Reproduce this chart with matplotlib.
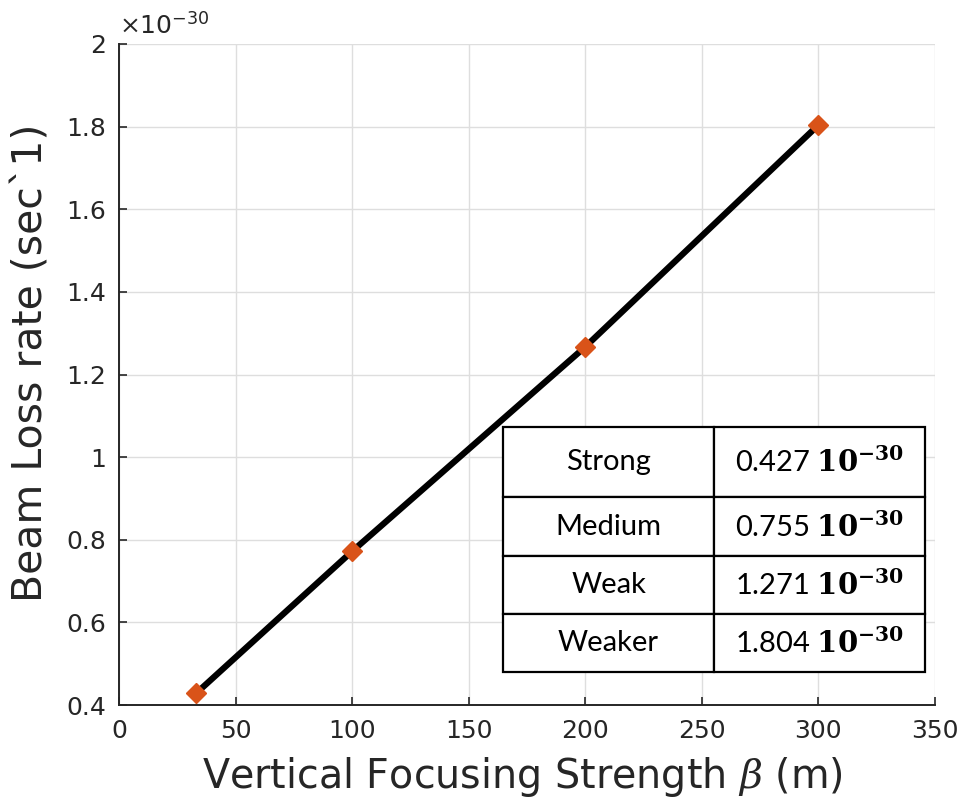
import matplotlib
matplotlib.use('Agg')
import matplotlib.pyplot as plt
import numpy as np

# данные (значения y в единицах 1e-30)
beta = [33, 100, 200, 300]
loss_rate = [0.428, 0.772, 1.267, 1.804]

regimes = ['Strong', 'Medium', 'Weak', 'Weaker']
table_vals = ['0.427', '0.755', '1.271', '1.804']

x_ticks = [0, 50, 100, 150, 200, 250, 300, 350]
y_ticks = [0.4, 0.6, 0.8, 1.0, 1.2, 1.4, 1.6, 1.8, 2.0]

plt.rcParams['font.family'] = 'DejaVu Sans'
plt.rcParams['mathtext.fontset'] = 'dejavuserif'

txt_col = '#262626'

fig = plt.figure(figsize=(9.58, 7.98), dpi=100)
ax = fig.add_axes([0.1242, 0.1165, 0.8518, 0.8284])

ax.plot(beta, loss_rate, color='black', linewidth=4.5, zorder=3)
ax.plot(beta, loss_rate, linestyle='none', marker='D', markersize=10,
        color='#D95319', markeredgecolor='#D95319', zorder=4)

ax.set_xlim(0, 350)
ax.set_ylim(0.4, 2.0)
ax.set_xticks(x_ticks)
ax.set_yticks(y_ticks)
ax.set_yticklabels(['%g' % v for v in y_ticks])
ax.grid(True, color='#dedede', linewidth=1.0)
ax.set_axisbelow(True)

for s in ['top', 'right']:
    ax.spines[s].set_visible(False)
for s in ['left', 'bottom']:
    ax.spines[s].set_color(txt_col)
    ax.spines[s].set_linewidth(1.4)

ax.tick_params(direction='in', length=6, width=1.2, colors=txt_col,
               labelsize=18, labelcolor=txt_col)
ax.tick_params(axis='x', pad=10)
ax.tick_params(axis='y', pad=9)

ax.set_xlabel(r'Vertical Focusing Strength $\beta$ (m)', fontsize=28.5,
              color=txt_col)
ax.set_ylabel('Beam Loss rate (sec`1)', fontsize=29.5, color=txt_col)
ax.xaxis.set_label_coords(0.494, -0.076)
ax.yaxis.set_label_coords(-0.107, 0.518)
ax.yaxis.label.set_verticalalignment('center')

# множитель оси y, как в MATLAB
ax.text(0.0, 1.008, r'$\times\mathsf{10}^{\mathsf{-30}}$', transform=ax.transAxes,
        fontsize=18, color=txt_col, ha='left', va='bottom')

# таблица значений
cell_text = [[r, v + r' $\mathbf{10^{-30}}$'] for r, v in zip(regimes, table_vals)]
tbl = ax.table(cellText=cell_text, cellLoc='center',
               bbox=[0.4706, 0.0499, 0.5171, 0.3707], zorder=5)
tbl.auto_set_font_size(False)
row_h = [70, 59, 58, 58]
for (r, c), cell in tbl.get_celld().items():
    cell.set_height(row_h[r] / sum(row_h))
    cell.set_linewidth(1.6)
    cell.set_edgecolor('black')
    cell.set_facecolor('white')
    cell.get_text().set_fontsize(21)
    cell.get_text().set_family('Lato')

fig.savefig('out.png', dpi=100)
